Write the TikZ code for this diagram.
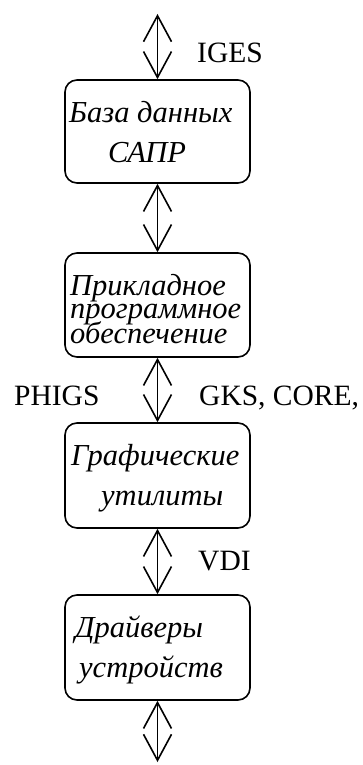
\documentclass[tikz,border=0pt]{standalone}
\usepackage{fontspec}
\setmainfont{Liberation Serif}
\usetikzlibrary{arrows.meta}
\begin{document}
\begin{tikzpicture}[x=1pt,y=-1pt,
  box/.style={draw,line width=1.6pt,rounded corners=12pt,minimum width=185pt,inner sep=0pt},
  txt/.style={inner sep=0pt,anchor=base west,font=\fontsize{30.5}{30.5}\selectfont\itshape},
  lbl/.style={inner sep=0pt,anchor=base west,font=\fontsize{29.5}{29.5}\selectfont},
  link/.style={line width=1.6pt,{Straight Barb[length=26pt,width=28pt,line width=1.6pt]}-{Straight Barb[length=26pt,width=28pt,line width=1.6pt]}}]
\useasboundingbox (0,0) rectangle (363,765);
\node[box,minimum height=103pt] (b1) at (157.5,131.5) {};
\node[box,minimum height=104pt] (b2) at (157.5,305) {};
\node[box,minimum height=105pt] (b3) at (157.5,475.5) {};
\node[box,minimum height=105pt] (b4) at (157.5,647.5) {};
\node[txt] (t11) at (69,122) {База данных};
\node[txt] (t12) at (108,162) {САПР};
\node[txt] (t21) at (70,295) {Прикладное};
\node[txt] (t22) at (70,318) {программное};
\node[txt] (t23) at (70,343) {обеспечение};
\node[txt] (t31) at (71,465) {Графические};
\node[txt] (t32) at (101,505) {утилиты};
\node[txt] (t41) at (75,637) {Драйверы};
\node[txt] (t42) at (79,677) {устройств};
\node[lbl] (l1) at (197,63) {IGES};
\node[lbl] (l2) at (14,405) {PHIGS};
\node[lbl] (l3) at (199,405) {GKS, CORE,};
\node[lbl] (l4) at (198,570) {VDI};
\coordinate (top) at (157.5,14);
\coordinate (bot) at (157.5,762);
\draw[link] (top) -- (b1.north);
\draw[link] (b1.south) -- (b2.north);
\draw[link] (b2.south) -- (b3.north);
\draw[link] (b3.south) -- (b4.north);
\draw[link] (b4.south) -- (bot);
\end{tikzpicture}
\end{document}
